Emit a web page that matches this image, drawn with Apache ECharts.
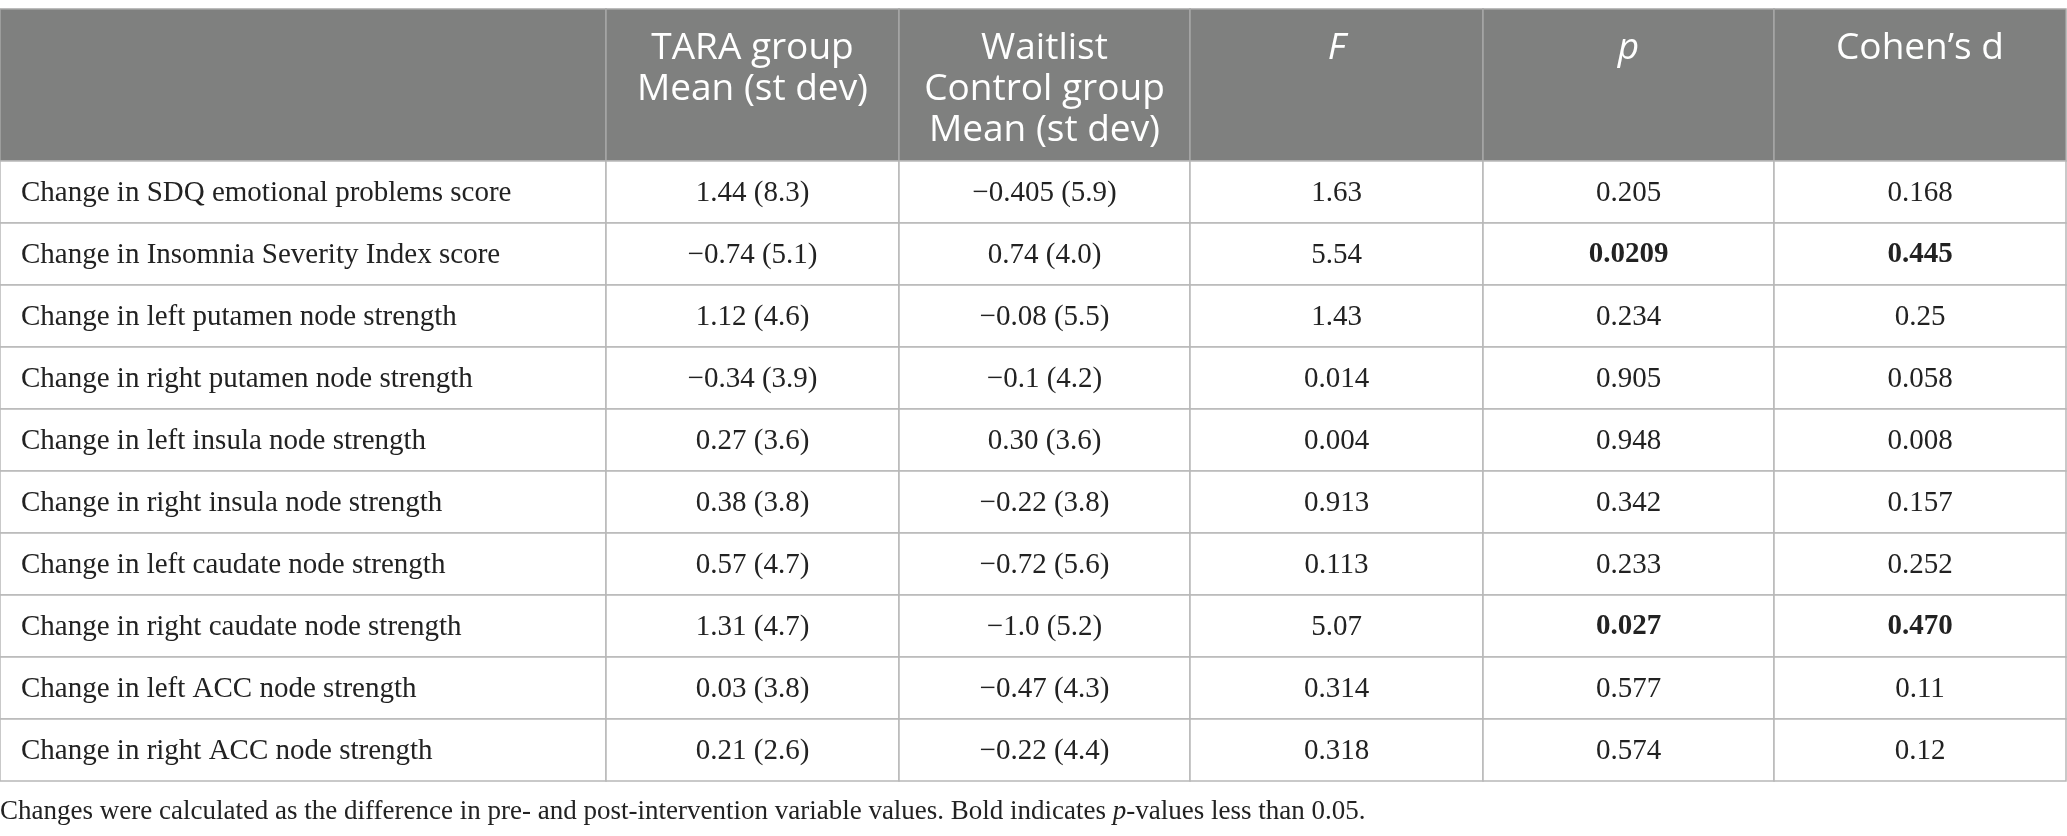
<!DOCTYPE html>
<html lang="en">
<head>
<meta charset="UTF-8">
<title>table_chart</title>
<script src="https://cdn.jsdelivr.net/npm/echarts@6/dist/echarts.min.js"></script>
<style>
  html, body { margin: 0; padding: 0; background: #fff; }
  #main { width: 2067px; height: 836px; }
</style>
</head>
<body>
<div id="main"></div>
<script type="text/javascript">
// table content
var headers = ['', 'TARA group\nMean (st dev)', 'Waitlist\nControl group\nMean (st dev)', 'F', 'p', 'Cohen\u2019s d'];
var headerItalic = [false, false, false, true, true, false];
var measures = [
    'Change in SDQ emotional problems score',
    'Change in Insomnia Severity Index score',
    'Change in left putamen node strength',
    'Change in right putamen node strength',
    'Change in left insula node strength',
    'Change in right insula node strength',
    'Change in left caudate node strength',
    'Change in right caudate node strength',
    'Change in left ACC node strength',
    'Change in right ACC node strength'
];
var taraMean = ['1.44', '\u22120.74', '1.12', '\u22120.34', '0.27', '0.38', '0.57', '1.31', '0.03', '0.21'];
var taraSd = ['8.3', '5.1', '4.6', '3.9', '3.6', '3.8', '4.7', '4.7', '3.8', '2.6'];
var waitMean = ['\u22120.405', '0.74', '\u22120.08', '\u22120.1', '0.30', '\u22120.22', '\u22120.72', '\u22121.0', '\u22120.47', '\u22120.22'];
var waitSd = ['5.9', '4.0', '5.5', '4.2', '3.6', '3.8', '5.6', '5.2', '4.3', '4.4'];
var fStat = ['1.63', '5.54', '1.43', '0.014', '0.004', '0.913', '0.113', '5.07', '0.314', '0.318'];
var pValue = ['0.205', '0.0209', '0.234', '0.905', '0.948', '0.342', '0.233', '0.027', '0.577', '0.574'];
var cohensD = ['0.168', '0.445', '0.25', '0.058', '0.008', '0.157', '0.252', '0.470', '0.11', '0.12'];

// layout (axis units == pixels)
var colWidths = [606, 293, 291, 293, 291, 292];
var headerH = 152, rowH = 62;
var colEdges = [0];
for (var i = 0; i < colWidths.length; i++) colEdges.push(colEdges[i] + colWidths[i]);
var totalH = headerH + measures.length * rowH;

function cellText(col, row) {
    if (row < 0) return headers[col];
    switch (col) {
        case 0: return measures[row];
        case 1: return taraMean[row] + ' (' + taraSd[row] + ')';
        case 2: return waitMean[row] + ' (' + waitSd[row] + ')';
        case 3: return fStat[row];
        case 4: return pValue[row];
        default: return cohensD[row];
    }
}

var cells = [];
for (var c = 0; c < headers.length; c++) {
    cells.push([c, -1]);
    for (var r = 0; r < measures.length; r++) cells.push([c, r]);
}

var myChart = echarts.init(document.getElementById('main'));

function renderCell(params, api) {
    var col = api.value(0), row = api.value(1);
    var y0 = row < 0 ? 0 : headerH + row * rowH;
    var y1 = row < 0 ? headerH : y0 + rowH;
    var p0 = api.coord([colEdges[col], y0]);
    var p1 = api.coord([colEdges[col + 1], y1]);
    var isHead = row < 0;
    // bold where p < 0.05 (see footnote)
    var bold = !isHead && col >= 4 && parseFloat(pValue[row]) < 0.05;
    var txt;
    if (isHead) {
        txt = {
            type: 'text',
            style: {
                text: cellText(col, row),
                x: (p0[0] + p1[0]) / 2,
                y: p0[1] + 19,
                align: 'center',
                verticalAlign: 'top',
                fill: '#ffffff',
                fontFamily: 'Open Sans',
                fontSize: 37,
                lineHeight: 41,
                fontStyle: headerItalic[col] ? 'italic' : 'normal'
            }
        };
    } else {
        txt = {
            type: 'text',
            style: {
                text: cellText(col, row),
                x: col === 0 ? p0[0] + 21 : (p0[0] + p1[0]) / 2,
                y: (p0[1] + p1[1]) / 2 + 1,
                align: col === 0 ? 'left' : 'center',
                verticalAlign: 'middle',
                fill: '#222222',
                fontFamily: 'Liberation Serif',
                fontSize: 29,
                fontWeight: bold ? 'bold' : 'normal'
            }
        };
    }
    return {
        type: 'group',
        children: [{
            type: 'rect',
            shape: { x: p0[0], y: p0[1], width: p1[0] - p0[0], height: p1[1] - p0[1] },
            style: {
                fill: isHead ? '#7f807f' : '#ffffff',
                stroke: isHead ? '#a6a6a6' : '#b8b8b8',
                lineWidth: 1.5
            }
        }, txt]
    };
}

var option = {
    animation: false,
    title: {
        left: 0,
        top: 798,
        text: '{n|Changes were calculated as the difference in pre- and post-intervention variable values. Bold indicates }{i|p}{n|-values less than 0.05.}',
        textStyle: {
            rich: {
                n: { fontFamily: 'Liberation Serif', fontSize: 27, fontWeight: 'normal', color: '#222222' },
                i: { fontFamily: 'Liberation Serif', fontSize: 27, fontWeight: 'normal', color: '#222222', fontStyle: 'italic' }
            }
        },
        padding: 0
    },
    grid: { left: 0, top: 9, width: colEdges[colEdges.length - 1], height: totalH },
    xAxis: { type: 'value', min: 0, max: colEdges[colEdges.length - 1], show: false },
    yAxis: { type: 'value', min: 0, max: totalH, inverse: true, show: false },
    series: [{
        type: 'custom',
        renderItem: renderCell,
        data: cells,
        silent: true
    }]
};
myChart.setOption(option);
</script>
</body>
</html>
